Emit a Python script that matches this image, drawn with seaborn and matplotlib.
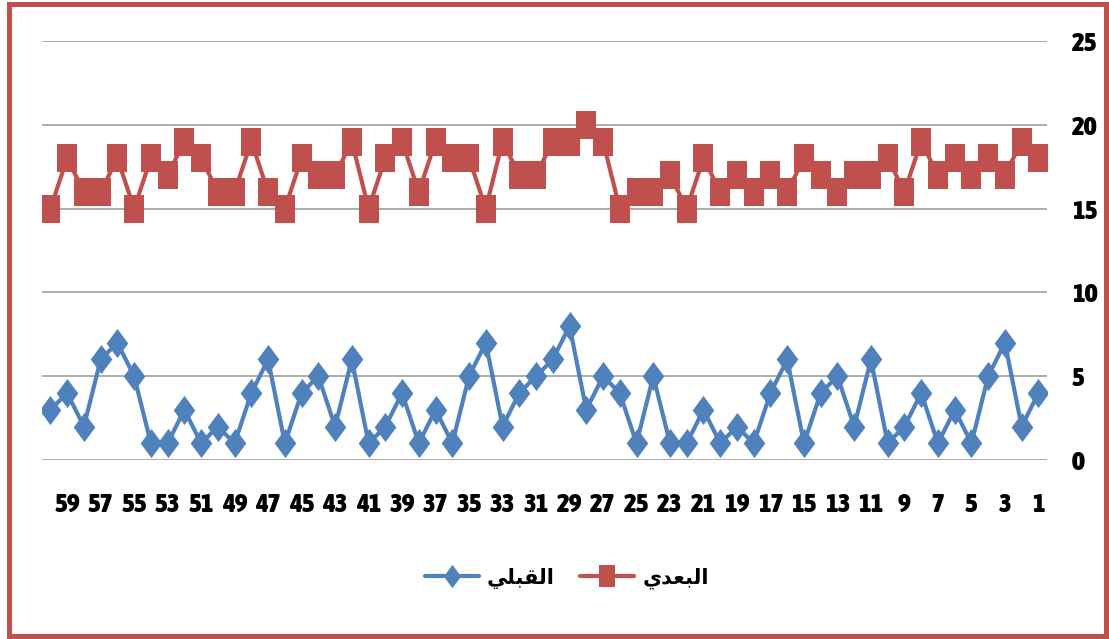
import pandas as pd
import matplotlib.pyplot as plt
import seaborn as sns
from matplotlib import font_manager
from matplotlib.font_manager import FontProperties
from matplotlib.patches import Rectangle

# Subject numbers (the x axis runs from 60 on the left to 1 on the right)
subjects = list(range(1, 61))

# Pre-test scores (القبلي), subject 1..60
before = [4, 2, 7, 5, 1, 3, 1, 4, 2, 1,
          6, 2, 5, 4, 1, 6, 4, 1, 2, 1,
          3, 1, 1, 5, 1, 4, 5, 3, 8, 6,
          5, 4, 2, 7, 5, 1, 3, 1, 4, 2,
          1, 6, 2, 5, 4, 1, 6, 4, 1, 2,
          1, 3, 1, 1, 5, 7, 6, 2, 4, 3]

# Post-test scores (البعدي), subject 1..60
after = [18, 19, 17, 18, 17, 18, 17, 19, 16, 18,
         17, 17, 16, 17, 18, 16, 17, 16, 17, 16,
         18, 15, 17, 16, 16, 15, 19, 20, 19, 19,
         17, 17, 19, 15, 18, 18, 19, 16, 19, 18,
         15, 19, 17, 17, 18, 15, 16, 19, 16, 16,
         18, 19, 17, 18, 15, 18, 16, 16, 18, 15]

series_names = ['القبلي', 'البعدي']
# matplotlib does not shape Arabic, so the legend uses presentation forms in visual order
shaped_names = {'القبلي': '\ufef2\ufee0\ufe92\ufed8\ufedf\ufe8d',
                'البعدي': '\ufef1\ufeaa\ufecc\ufe92\ufedf\ufe8d'}
colors = {'القبلي': '#4F81BD', 'البعدي': '#C0504D'}

y_ticks = [0, 5, 10, 15, 20, 25]
x_ticks = list(range(1, 61, 2))

# tall markers like the stretched Excel ones
diamond = [(0, 1.35), (1, 0), (0, -1.35), (-1, 0), (0, 1.35)]
square = [(-1, -1.35), (1, -1.35), (1, 1.35), (-1, 1.35), (-1, -1.35)]

sns.set_style('white')
plt.rcParams['font.family'] = ['DejaVu Sans']


# look for a narrow upright bold font for the tick labels (Calibri-like look)
def is_narrow(f):
    txt = (f.name + ' ' + f.fname).lower()
    return ('narrow' in txt or 'condensed' in txt
            or f.stretch in ('condensed', 'semi-condensed', 'extra-condensed'))


def is_bold(f):
    w = f.weight
    if isinstance(w, str):
        return w in ('bold', 'heavy', 'extra bold', 'black', 'semibold', 'demibold')
    return w >= 600


def is_upright(f):
    txt = f.fname.lower()
    return f.style == 'normal' and 'italic' not in txt and 'oblique' not in txt


narrow = [f for f in font_manager.fontManager.ttflist
          if is_narrow(f) and is_bold(f) and is_upright(f)]
narrow.sort(key=lambda f: (0 if 'liberation' in f.name.lower() else 1, f.name))
if narrow:
    tick_font = FontProperties(fname=narrow[0].fname, size=19.5)
else:
    tick_font = FontProperties(family='Liberation Sans', weight='bold', size=15.5)

fig = plt.figure(figsize=(11.09, 6.39), dpi=100)
ax = fig.add_axes([0.0379, 0.280, 0.906, 0.656])

# horizontal gridlines
for t in y_ticks:
    ax.axhline(t, color='#A6A6A6', lw=1.3, zorder=0)

sns.lineplot(x=subjects, y=before, color=colors['القبلي'], marker=diamond,
             markersize=21, markeredgewidth=0, lw=3, ax=ax,
             label=shaped_names['القبلي'])
sns.lineplot(x=subjects, y=after, color=colors['البعدي'], marker=square,
             markersize=19.5, markeredgewidth=0, lw=3, ax=ax,
             label=shaped_names['البعدي'])

ax.set_xlim(60.5, 0.5)
ax.set_ylim(0, 25)
ax.set_xticks(x_ticks)
ax.set_xticklabels([str(v) for v in x_ticks])
ax.set_yticks(y_ticks)
ax.yaxis.tick_right()
ax.tick_params(axis='x', length=0, pad=23, labelcolor='black')
ax.tick_params(axis='y', length=0, pad=18, labelcolor='black')
for lab in ax.get_xticklabels() + ax.get_yticklabels():
    lab.set_fontproperties(tick_font)
for lab in ax.get_yticklabels():
    lab.set_horizontalalignment('left')
for s in ax.spines.values():
    s.set_visible(False)
ax.set_xlabel('')
ax.set_ylabel('')

handles, labels = ax.get_legend_handles_labels()
ax.get_legend().remove()
leg = fig.legend(handles, labels, loc='center', bbox_to_anchor=(0.511, 0.095),
                 ncol=2, frameon=False, markerscale=0.8, handlelength=2.6,
                 columnspacing=1.2, handletextpad=0.4,
                 prop={'family': 'DejaVu Sans', 'weight': 'bold', 'size': 15})
for txt in leg.get_texts():
    txt.set_color('black')

# red frame around the whole chart
fig.add_artist(Rectangle((8.5 / 1109, 3.5 / 639), 1097 / 1109, 632 / 639,
                         transform=fig.transFigure, fill=False,
                         edgecolor='#C0504D', lw=3.6))

fig.savefig('out.png', dpi=100)
